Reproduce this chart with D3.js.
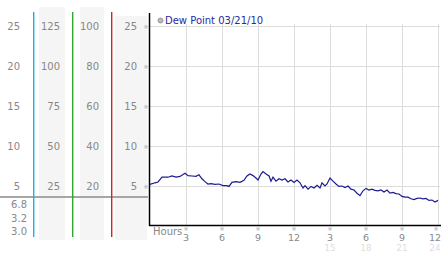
<!DOCTYPE html>
<html>
<head>
<meta charset="utf-8">
<script src="https://cdn.jsdelivr.net/npm/d3@7"></script>
<style>
  body { margin: 0; background: #fff; }
  svg { display: block; font-family: "DejaVu Sans", Verdana, sans-serif; }
</style>
</head>
<body>
<svg width="442" height="253"></svg>
<script>
// dew point readings, hour of day vs value
let hours = [0, 0.42, 0.67, 1.0, 1.5, 1.83, 2.17, 2.5, 2.92, 3.17, 3.5, 3.83, 4.08, 4.33, 4.58, 4.83,
  5.08, 5.42, 5.75, 6.08, 6.42, 6.58, 6.83, 7.17, 7.5, 7.83, 8.08, 8.33, 8.58, 8.83, 9.0, 9.25,
  9.42, 9.67, 9.92, 10.08, 10.25, 10.5, 10.75, 11.0, 11.25, 11.5, 11.75, 12.0, 12.25, 12.5, 12.75,
  12.92, 13.17, 13.42, 13.67, 13.92, 14.17, 14.33, 14.58, 14.75, 15.0, 15.25, 15.5, 15.75, 16.0,
  16.25, 16.5, 16.75, 17.0, 17.25, 17.5, 17.75, 18.0, 18.25, 18.5, 18.75, 19.0, 19.25, 19.5, 19.75,
  20.0, 20.25, 20.5, 20.75, 21.0, 21.25, 21.5, 21.75, 22.0, 22.25, 22.5, 22.75, 23.0, 23.25, 23.5,
  23.75, 24.0];
let dewPoint = [5.2, 5.4, 5.5, 6.1, 6.1, 6.25, 6.1, 6.2, 6.6, 6.3, 6.25, 6.2, 6.4, 5.9, 5.55, 5.25,
  5.3, 5.2, 5.25, 5.05, 5.05, 4.95, 5.45, 5.55, 5.45, 5.7, 6.25, 6.5, 6.3, 6.0, 5.75, 6.5,
  6.8, 6.5, 6.25, 5.6, 6.1, 5.6, 5.9, 5.75, 5.9, 5.5, 5.75, 5.45, 5.75, 5.4, 4.75,
  5.05, 4.6, 4.95, 4.75, 5.1, 4.75, 5.4, 5.0, 5.25, 6.0, 5.6, 5.25, 4.95, 5.0,
  4.8, 5.0, 4.6, 4.5, 4.1, 3.8, 4.4, 4.7, 4.5, 4.6, 4.45, 4.4, 4.5, 4.25, 4.5,
  4.1, 4.2, 4.05, 4.0, 3.7, 3.6, 3.6, 3.4, 3.3, 3.45, 3.5, 3.4, 3.45, 3.2, 3.25,
  3.0, 3.2];

let legendText = "Dew Point 03/21/10";
let yTicks = [5, 10, 15, 20, 25];
let col2Labels = [25, 50, 75, 100, 125];
let col3Labels = [20, 40, 60, 80, 100];
let hourTicks = [3, 6, 9, 12, 15, 18, 21, 24];
let hourLabels = ["3", "6", "9", "12", "3", "6", "9", "12"];
let hourLabels24 = ["", "", "", "", "15", "18", "21", "24"];
let statLabels = ["6.8", "3.2", "3.0"];

let svg = d3.select("svg");

let x = d3.scaleLinear().domain([0, 24]).range([150, 438]);
let y = d3.scaleLinear().domain([0, 25]).range([226, 26]);

// gray side bands
let bands = [[39, 7, 26], [80, 7, 24], [115, 16, 32]];
bands.forEach(function(b) {
  svg.append("rect").attr("x", b[0]).attr("y", b[1]).attr("width", b[2])
    .attr("height", 240 - b[1]).attr("fill", "#f5f5f5");
});

// horizontal separator on the left
svg.append("rect").attr("x", 0).attr("y", 196).attr("width", 148).attr("height", 2)
  .attr("fill", "#a6a6a6");

// coloured scale lines
let scaleLines = [[33, "#18b4e0"], [72, "#2ea82e"], [111, "#d02424"]];
scaleLines.forEach(function(s) {
  svg.append("rect").attr("x", s[0]).attr("width", 1.4)
    .attr("y", 12).attr("height", 225).attr("fill", s[1]);
});

// left label columns
function labelCol(vals, xEnd) {
  svg.append("g").selectAll("text").data(vals).enter().append("text")
    .attr("x", xEnd).attr("y", function(d, i) { return y(yTicks[i]) + 4; })
    .attr("text-anchor", "end").attr("font-size", 10).attr("fill", "#888")
    .text(function(d) { return d; });
}
labelCol(yTicks, 20);
labelCol(col2Labels, 60);
labelCol(col3Labels, 99);
labelCol(yTicks, 137);

svg.append("g").selectAll("text").data(statLabels).enter().append("text")
  .attr("x", 27).attr("y", function(d, i) { return 208 + i * 13.5; })
  .attr("text-anchor", "end").attr("font-size", 10).attr("fill", "#888")
  .text(function(d) { return d; });

// grid
svg.append("g").selectAll("line").data(yTicks).enter().append("line")
  .attr("x1", 150).attr("x2", 440)
  .attr("y1", function(d) { return Math.round(y(d)) + 0.5; })
  .attr("y2", function(d) { return Math.round(y(d)) + 0.5; })
  .attr("stroke", "#dcdcdc");
svg.append("g").selectAll("line").data(hourTicks).enter().append("line")
  .attr("x1", function(d) { return Math.round(x(d)) + 0.5; })
  .attr("x2", function(d) { return Math.round(x(d)) + 0.5; })
  .attr("y1", 24).attr("y2", 225)
  .attr("stroke", "#dcdcdc");

// small tick marks
svg.append("g").selectAll("text").data(yTicks).enter().append("text")
  .attr("x", 146).attr("y", function(d) { return y(d) + 2.5; })
  .attr("text-anchor", "middle").attr("font-size", 6).attr("fill", "#aaa")
  .text("※");
svg.append("g").selectAll("text").data(hourTicks).enter().append("text")
  .attr("x", function(d) { return Math.min(x(d), 436); }).attr("y", 231)
  .attr("text-anchor", "middle").attr("font-size", 6).attr("fill", "#aaa")
  .text("※");

// axes
svg.append("line").attr("x1", 149.5).attr("x2", 149.5).attr("y1", 13).attr("y2", 226)
  .attr("stroke", "#000").attr("stroke-width", 1.5);
svg.append("line").attr("x1", 149).attr("x2", 441).attr("y1", 225.5).attr("y2", 225.5)
  .attr("stroke", "#000").attr("stroke-width", 1.5);

// x labels
svg.append("text").attr("x", 153).attr("y", 235).attr("font-size", 10).attr("fill", "#888")
  .text("Hours");
svg.append("g").selectAll("text").data(hourTicks).enter().append("text")
  .attr("x", function(d) { return Math.min(x(d), 435); }).attr("y", 240.5)
  .attr("text-anchor", "middle").attr("font-size", 9.5).attr("fill", "#888")
  .text(function(d, i) { return hourLabels[i]; });
svg.append("g").selectAll("text").data(hourTicks).enter().append("text")
  .attr("x", function(d) { return Math.min(x(d), 435); }).attr("y", 251)
  .attr("text-anchor", "middle").attr("font-size", 8.5).attr("fill", "#ddd")
  .text(function(d, i) { return hourLabels24[i]; });

// dew point line
let pts = hours.map(function(h, i) { return [h, dewPoint[i]]; });
svg.append("path").datum(pts)
  .attr("d", d3.line().x(function(d) { return x(d[0]); }).y(function(d) { return y(d[1]); }))
  .attr("fill", "none").attr("stroke", "#1c1c8e").attr("stroke-width", 1.2);

// legend
svg.append("circle").attr("cx", 160.5).attr("cy", 20.5).attr("r", 2.5)
  .attr("fill", "#bbb").attr("stroke", "#888").attr("stroke-width", 0.8);
svg.append("text").attr("x", 165).attr("y", 24).attr("font-size", 10).attr("fill", "#2a2aa0")
  .text(legendText);
</script>
</body>
</html>
